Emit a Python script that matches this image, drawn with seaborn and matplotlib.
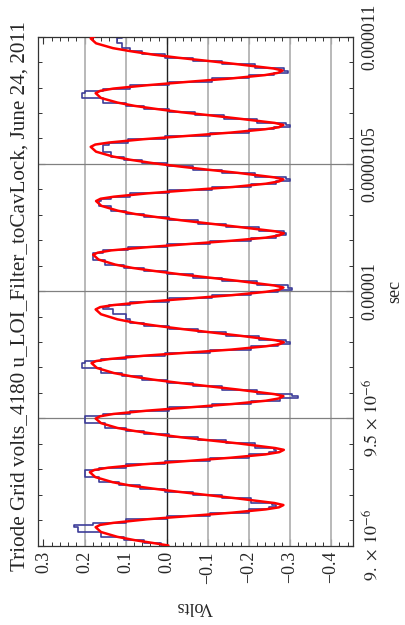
import matplotlib
matplotlib.use("Agg")
import matplotlib.pyplot as plt
import seaborn as sns
from matplotlib.ticker import FixedLocator, MultipleLocator

# time axis in microseconds
time_us = [
    9.000, 9.008, 9.021, 9.034, 9.053, 9.072, 9.081, 9.089, 9.103, 9.116,
    9.129, 9.142, 9.150, 9.159, 9.167, 9.185, 9.198, 9.211, 9.224, 9.236,
    9.249, 9.269, 9.288, 9.297, 9.306, 9.319, 9.332, 9.345, 9.358, 9.367,
    9.376, 9.383, 9.401, 9.413, 9.425, 9.438, 9.450, 9.462, 9.481, 9.499,
    9.508, 9.517, 9.530, 9.543, 9.556, 9.569, 9.578, 9.587, 9.595, 9.613,
    9.626, 9.639, 9.652, 9.665, 9.678, 9.698, 9.717, 9.725, 9.733, 9.746,
    9.758, 9.770, 9.783, 9.791, 9.799, 9.807, 9.825, 9.838, 9.851, 9.864,
    9.876, 9.889, 9.909, 9.928, 9.937, 9.945, 9.958, 9.971, 9.984, 9.997,
    10.005, 10.014, 10.022, 10.040, 10.053, 10.066, 10.079, 10.091, 10.104, 10.124,
    10.143, 10.151, 10.160, 10.172, 10.185, 10.198, 10.210, 10.219, 10.227, 10.235,
    10.252, 10.265, 10.278, 10.291, 10.303, 10.316, 10.335, 10.354, 10.363, 10.371,
    10.384, 10.397, 10.409, 10.422, 10.431, 10.439, 10.447, 10.465, 10.477, 10.490,
    10.503, 10.516, 10.529, 10.548, 10.567, 10.576, 10.584, 10.597, 10.610, 10.623,
    10.636, 10.644, 10.653, 10.661, 10.678, 10.691, 10.703, 10.716, 10.728, 10.741,
    10.759, 10.778, 10.787, 10.796, 10.809, 10.823, 10.836, 10.849, 10.858, 10.867,
    10.875, 10.892, 10.905, 10.917, 10.930, 10.943, 10.955, 10.974, 10.993, 11.010,
]

# red fitted curve (volts)
fit_volts = [
    -0.004, 0.026, 0.078, 0.120, 0.160, 0.173, 0.162, 0.130, 0.048, -0.056,
    -0.159, -0.241, -0.273, -0.284, -0.262, -0.172, -0.100, -0.029, 0.035, 0.090,
    0.132, 0.174, 0.187, 0.176, 0.142, 0.058, -0.049, -0.156, -0.240, -0.274,
    -0.285, -0.264, -0.176, -0.106, -0.037, 0.026, 0.078, 0.120, 0.160, 0.173,
    0.162, 0.130, 0.048, -0.056, -0.159, -0.241, -0.273, -0.284, -0.262, -0.173,
    -0.101, -0.031, 0.033, 0.086, 0.129, 0.170, 0.183, 0.172, 0.139, 0.055,
    -0.051, -0.157, -0.241, -0.274, -0.285, -0.264, -0.176, -0.106, -0.037, 0.026,
    0.078, 0.120, 0.160, 0.173, 0.162, 0.130, 0.048, -0.056, -0.159, -0.241,
    -0.273, -0.284, -0.262, -0.174, -0.103, -0.033, 0.030, 0.083, 0.125, 0.166,
    0.179, 0.168, 0.135, 0.052, -0.053, -0.158, -0.241, -0.274, -0.285, -0.264,
    -0.176, -0.106, -0.037, 0.025, 0.077, 0.119, 0.159, 0.172, 0.161, 0.129,
    0.048, -0.056, -0.160, -0.241, -0.273, -0.284, -0.262, -0.172, -0.101, -0.030,
    0.034, 0.088, 0.131, 0.172, 0.185, 0.174, 0.140, 0.057, -0.050, -0.156,
    -0.239, -0.273, -0.284, -0.263, -0.175, -0.105, -0.036, 0.026, 0.078, 0.120,
    0.160, 0.173, 0.162, 0.130, 0.049, -0.055, -0.158, -0.239, -0.271, -0.282,
    -0.260, -0.171, -0.099, -0.029, 0.035, 0.088, 0.131, 0.172, 0.185, 0.166,
]

# blue scope trace (volts), stepped
scope_volts = [
    0.00, 0.03, 0.08, 0.13, 0.19, 0.24, 0.21, 0.15, 0.05, -0.05,
    -0.16, -0.24, -0.26, -0.27, -0.24, -0.17, -0.10, -0.03, 0.04, 0.09,
    0.14, 0.19, 0.21, 0.19, 0.14, 0.06, -0.05, -0.16, -0.24, -0.26,
    -0.27, -0.25, -0.18, -0.11, -0.04, 0.03, 0.08, 0.12, 0.18, 0.22,
    0.18, 0.13, 0.05, -0.06, -0.16, -0.25, -0.30, -0.34, -0.27, -0.17,
    -0.10, -0.03, 0.03, 0.09, 0.13, 0.19, 0.22, 0.18, 0.14, 0.06,
    -0.05, -0.16, -0.25, -0.29, -0.31, -0.27, -0.18, -0.11, -0.04, 0.03,
    0.08, 0.10, 0.10, 0.16, 0.15, 0.13, 0.05, -0.06, -0.16, -0.25,
    -0.29, -0.32, -0.27, -0.17, -0.10, -0.03, 0.03, 0.08, 0.13, 0.17,
    0.19, 0.17, 0.14, 0.05, -0.05, -0.16, -0.25, -0.28, -0.30, -0.27,
    -0.18, -0.11, -0.04, 0.03, 0.08, 0.12, 0.15, 0.18, 0.14, 0.13,
    0.05, -0.06, -0.16, -0.25, -0.28, -0.32, -0.26, -0.17, -0.10, -0.03,
    0.03, 0.09, 0.12, 0.15, 0.16, 0.15, 0.13, 0.06, -0.05, -0.16,
    -0.24, -0.28, -0.32, -0.26, -0.18, -0.10, -0.04, 0.03, 0.08, 0.12,
    0.19, 0.22, 0.18, 0.13, 0.05, -0.06, -0.16, -0.24, -0.28, -0.31,
    -0.26, -0.17, -0.10, -0.03, 0.04, 0.08, 0.10, 0.12, 0.12, 0.10,
]

volt_ticks = [0.3, 0.2, 0.1, 0.0, -0.1, -0.2, -0.3, -0.4]
volt_labels = ["0.3", "0.2", "0.1", "0.0", "\u22120.1", "\u22120.2", "\u22120.3", "\u22120.4"]
time_ticks = [9.0, 9.5, 10.0, 10.5, 11.0]
time_labels = [r"$9.\,\times\,10^{-6}$", r"$9.5\,\times\,10^{-6}$", "0.00001", "0.0000105", "0.000011"]
title = "Triode Grid volts_4180 u_LOI_Filter_toCavLock, June 24, 2011"

sns.set_style("ticks")
plt.rcParams["font.family"] = ["Liberation Serif", "DejaVu Serif"]
plt.rcParams["mathtext.fontset"] = "stix"

fig = plt.figure(figsize=(4.05, 6.25), dpi=100)
ax = fig.add_axes([0.0931, 0.1272, 0.7778, 0.8141])

# grid lines (vertical = volts, horizontal = time)
for v in [0.2, 0.1, -0.1, -0.2, -0.3, -0.4]:
    ax.axvline(v, color="#b3b3b3", lw=1.3, zorder=1)
ax.axvline(0.0, color="#222222", lw=1.0, zorder=1)
for t in [9.5, 10.0, 10.5]:
    ax.axhline(t, color="#808080", lw=0.9, zorder=1)

sns.lineplot(x=scope_volts, y=time_us, sort=False, estimator=None, ax=ax,
             color="#3d3d99", lw=1.2, drawstyle="steps-mid", zorder=2)
sns.lineplot(x=fit_volts, y=time_us, sort=False, estimator=None, ax=ax,
             color="#ff0000", lw=1.8, zorder=3)

ax.set_xlim(0.314, -0.4526)
ax.set_ylim(9.0, 11.0)

ax.xaxis.set_major_locator(FixedLocator(volt_ticks))
ax.set_xticklabels(volt_labels)
ax.xaxis.set_minor_locator(MultipleLocator(0.02))
ax.yaxis.set_major_locator(FixedLocator(time_ticks))
ax.set_yticklabels(time_labels)
ax.yaxis.set_minor_locator(MultipleLocator(0.1))

ax.tick_params(axis="both", which="both", direction="in", top=True, bottom=True,
               left=True, right=True, color="#333333", labelsize=13)
ax.tick_params(axis="both", which="major", length=5, width=0.8)
ax.tick_params(axis="both", which="minor", length=3, width=0.7)
ax.tick_params(axis="x", labelrotation=90, pad=4)
ax.tick_params(axis="y", labelleft=False, labelright=True, labelrotation=90, pad=6)
for lab in ax.get_yticklabels():
    lab.set_verticalalignment("center")

for s in ax.spines.values():
    s.set_color("#333333")
    s.set_linewidth(0.9)
ax.set_xlabel("")
ax.set_ylabel("")

fig.text(0.049, 1 - 296 / 625, title, rotation=90, ha="center", va="center", fontsize=15.2)
fig.text(195 / 405, 1 - 606 / 625, "Volts", rotation=180, ha="center", va="center", fontsize=13)
fig.text(395 / 405, 1 - 291 / 625, "sec", rotation=90, ha="center", va="center", fontsize=13)

fig.savefig("out.png", dpi=100)
